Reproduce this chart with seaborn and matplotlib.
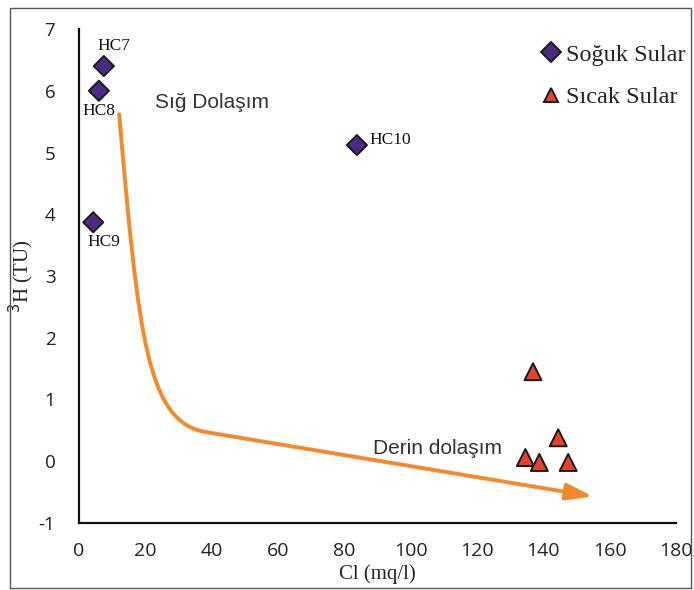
import numpy as np
import pandas as pd
import seaborn as sns
import matplotlib.pyplot as plt
from matplotlib.patches import Rectangle, FancyArrowPatch
from matplotlib.path import Path

# data
cold_names = ['HC7', 'HC8', 'HC9', 'HC10']
cold_cl = [7.5, 6.0, 4.3, 83.8]
cold_h3 = [6.4, 6.0, 3.87, 5.12]

hot_cl = [136.9, 144.5, 134.6, 138.8, 147.5]
hot_h3 = [1.45, 0.38, 0.06, -0.02, -0.02]

groups = ['Soğuk Sular', 'Sıcak Sular']

# trend arrow (shallow -> deep circulation): start, two bezier controls, knee, end
trend_cl = [12.1, 18.0, 20.5, 38.5, 155.0]
trend_h3 = [5.62, 2.0, 0.62, 0.47, -0.57]

df = pd.DataFrame({
    'Cl': cold_cl + hot_cl,
    'H3': cold_h3 + hot_h3,
    'grup': [groups[0]] * len(cold_cl) + [groups[1]] * len(hot_cl),
})

sns.set_style('white')
fig = plt.figure(figsize=(6.94, 5.90), dpi=100)
ax = fig.add_axes([0.1138, 0.1136, 0.974 - 0.1138, 0.9508 - 0.1136])

# figure frame
fig.patches.append(Rectangle((10 / 694, 0.004), 0.996 - 10 / 694, 1 - 8 / 590 - 0.004,
                             transform=fig.transFigure, fill=False,
                             edgecolor='#555555', linewidth=1.0))

orange = '#f5892a'
verts = list(zip(trend_cl, trend_h3))
codes = [Path.MOVETO, Path.CURVE4, Path.CURVE4, Path.CURVE4, Path.LINETO]
arrow = FancyArrowPatch(path=Path(verts, codes),
                        arrowstyle='-|>,head_length=1.6,head_width=0.5',
                        mutation_scale=10, color=orange, lw=2.8, zorder=2)
ax.add_patch(arrow)

sns.scatterplot(data=df, x='Cl', y='H3', hue='grup', style='grup', size='grup',
                palette={groups[0]: '#4a2a85', groups[1]: '#e8412a'},
                markers={groups[0]: 'D', groups[1]: '^'},
                sizes={groups[0]: 105, groups[1]: 150},
                edgecolor='#1a1a1a', linewidth=1.4, ax=ax, zorder=3)

# sample labels
serif = 'Liberation Serif'
offsets = {'HC7': (10.5, 6.72, 'center'), 'HC8': (6.0, 5.68, 'center'),
           'HC9': (7.6, 3.55, 'center'), 'HC10': (87.5, 5.2, 'left')}
for name in cold_names:
    x, y, ha = offsets[name]
    ax.text(x, y, name, family=serif, fontsize=12.5, ha=ha, va='center', color='#111111')

ax.text(40.1, 5.81, 'Sığ Dolaşım', family='Liberation Sans', fontsize=15, ha='center',
        va='center', color='#333333')
ax.text(108, 0.21, 'Derin dolaşım', family='Liberation Sans', fontsize=15, ha='center',
        va='center', color='#333333')

ax.set_xlim(0, 180)
ax.set_ylim(-1, 7)
ax.set_xticks(np.arange(0, 181, 20))
ax.set_yticks(np.arange(-1, 8, 1))
ax.set_yticklabels([str(v) for v in range(-1, 8)])
ax.tick_params(axis='both', direction='out', width=1.4, color='#111111',
               labelcolor='#222222')
ax.tick_params(axis='x', length=7, pad=7, labelsize=14)
ax.tick_params(axis='y', length=6, pad=11, labelsize=13.5)
for lab in ax.get_xticklabels() + ax.get_yticklabels():
    lab.set_family('Open Sans')
sns.despine(ax=ax)
for sp in ['left', 'bottom']:
    ax.spines[sp].set_linewidth(1.6)
    ax.spines[sp].set_color('#111111')

ax.set_xlabel('Cl (mq/l)', family=serif, fontsize=15, labelpad=3)
ax.set_ylabel('$^{3}$H (TU)', family=serif, fontsize=15, labelpad=2)

leg = ax.legend(loc='upper right', bbox_to_anchor=(1.04, 1.0), frameon=False,
                handlelength=0.8, handletextpad=0.2, labelspacing=0.85,
                borderaxespad=0.2, prop={'family': serif, 'size': 17.5})
for h in leg.legend_handles:
    h.set_markersize(10)
    h.set_markeredgecolor('#1a1a1a')
    h.set_markeredgewidth(1.4)

fig.savefig('out.png', dpi=100)
